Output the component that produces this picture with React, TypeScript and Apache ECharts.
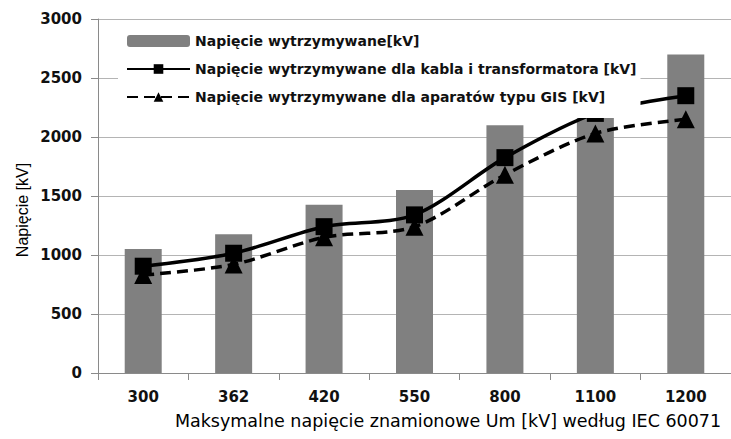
import React, { useEffect, useRef } from "react";
import * as echarts from "echarts";

const categories = ["300", "362", "420", "550", "800", "1100", "1200"];
const barValues = [1050, 1175, 1425, 1550, 2100, 2250, 2700];
const cableValues = [905, 1015, 1240, 1340, 1825, 2200, 2350];
const gisValues = [830, 920, 1150, 1240, 1680, 2030, 2150];
const seriesNames = [
  "Napięcie wytrzymywane[kV]",
  "Napięcie wytrzymywane dla kabla i transformatora [kV]",
  "Napięcie wytrzymywane dla aparatów typu GIS [kV]",
];
const xTitle = "Maksymalne napięcie znamionowe Um [kV] według IEC 60071";
const yTitle = "Napięcie [kV]";

export default function App() {
  const ref = useRef<HTMLDivElement>(null);
  useEffect(() => {
    if (!ref.current) return;
    const chart = echarts.init(ref.current, null, { renderer: "svg" });
    const labelFont = "DejaVu Sans";
    chart.setOption({
      animation: false,
      backgroundColor: "#ffffff",
      grid: { left: 98, top: 19, width: 662, height: 354, containLabel: false },
      legend: {
        orient: "vertical",
        left: 118,
        top: 27,
        padding: [6, 4, 13, 8],
        itemGap: 12,
        itemWidth: 63,
        itemHeight: 12,
        backgroundColor: "#ffffff",
        textStyle: { fontFamily: labelFont, fontSize: 14, fontWeight: "bold", color: "#111", lineHeight: 16 },
        data: seriesNames,
      },
      xAxis: {
        type: "category",
        data: categories,
        boundaryGap: true,
        axisLine: { lineStyle: { color: "#8a8a8a", width: 1 } },
        axisTick: { show: true, alignWithLabel: false, length: 7, lineStyle: { color: "#8a8a8a" } },
        axisLabel: { margin: 16, fontFamily: labelFont, fontSize: 15, fontWeight: "bold", color: "#111" },
        splitLine: { show: false },
      },
      yAxis: {
        type: "value",
        min: 0,
        max: 3000,
        interval: 500,
        axisLine: { show: true, lineStyle: { color: "#8a8a8a", width: 1 } },
        axisTick: { show: true, length: 7, lineStyle: { color: "#8a8a8a" } },
        axisLabel: {
          margin: 16,
          fontFamily: labelFont,
          fontSize: 15,
          fontWeight: "bold",
          color: "#111",
          formatter: (v: number) => String(v),
        },
        splitLine: { show: true, lineStyle: { color: "#b4b4b4", width: 1 } },
      },
      graphic: [
        {
          type: "text",
          x: 448,
          y: 421,
          style: {
            text: xTitle,
            fontFamily: labelFont,
            fontSize: 17.5,
            fill: "#000",
            textAlign: "center",
            textVerticalAlign: "middle",
          },
        },
        {
          type: "text",
          x: 22,
          y: 210,
          rotation: Math.PI / 2,
          style: {
            text: yTitle,
            fontFamily: "Liberation Sans",
            fontSize: 16,
            fill: "#000",
            textAlign: "center",
            textVerticalAlign: "middle",
          },
        },
      ],
      series: [
        {
          name: seriesNames[0],
          type: "bar",
          data: barValues,
          barWidth: 37,
          itemStyle: { color: "#808080" },
        },
        {
          name: seriesNames[1],
          type: "line",
          data: cableValues,
          smooth: 0.3,
          symbol: "rect",
          symbolSize: 17,
          lineStyle: { color: "#000", width: 3.5 },
          itemStyle: { color: "#000" },
        },
        {
          name: seriesNames[2],
          type: "line",
          data: gisValues,
          smooth: 0.3,
          symbol: "triangle",
          symbolSize: 18,
          lineStyle: { color: "#000", width: 3.5, type: [11, 6] },
          itemStyle: { color: "#000" },
        },
      ],
    });
    return () => chart.dispose();
  }, []);
  return <div ref={ref} style={{ width: 731, height: 439, position: "absolute", left: 0, top: 0 }} />;
}
